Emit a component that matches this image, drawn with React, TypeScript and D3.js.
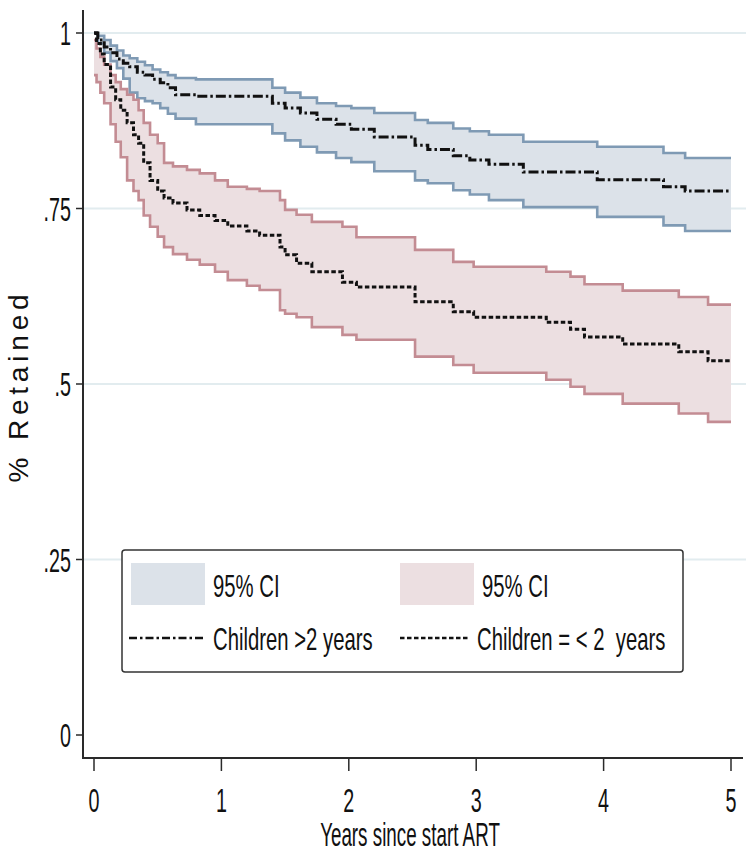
import * as d3 from 'd3';
import React, { useRef, useEffect } from 'react';

// Kaplan-Meier retention, children >2 years (time in years since ART start)
const olderTime = [0, 0.03, 0.08, 0.13, 0.18, 0.23, 0.28, 0.34, 0.40, 0.46, 0.52, 0.58, 0.64, 0.80, 1.40, 1.50, 1.62, 1.75, 1.90, 2.02, 2.20, 2.52, 2.62, 2.82, 2.95, 3.10, 3.37, 3.95, 4.47, 4.64];
const olderEst = [1.0, 0.99, 0.98, 0.972, 0.963, 0.957, 0.952, 0.944, 0.94, 0.934, 0.929, 0.922, 0.912, 0.91, 0.9, 0.893, 0.886, 0.877, 0.87, 0.863, 0.852, 0.84, 0.834, 0.825, 0.819, 0.813, 0.802, 0.791, 0.781, 0.775];
const olderUpper = [1.0, 0.996, 0.99, 0.982, 0.975, 0.968, 0.964, 0.959, 0.954, 0.948, 0.944, 0.94, 0.936, 0.934, 0.922, 0.915, 0.908, 0.9, 0.896, 0.893, 0.886, 0.876, 0.872, 0.864, 0.86, 0.855, 0.845, 0.838, 0.829, 0.822];
const olderLower = [1.0, 0.985, 0.972, 0.96, 0.95, 0.935, 0.915, 0.907, 0.903, 0.9, 0.893, 0.885, 0.878, 0.87, 0.857, 0.847, 0.838, 0.83, 0.822, 0.816, 0.803, 0.79, 0.786, 0.776, 0.77, 0.762, 0.752, 0.738, 0.726, 0.718];

// children =< 2 years
const youngerTime = [0, 0.02, 0.05, 0.08, 0.13, 0.17, 0.21, 0.26, 0.31, 0.35, 0.39, 0.44, 0.50, 0.55, 0.62, 0.73, 0.83, 0.95, 1.05, 1.20, 1.30, 1.46, 1.50, 1.59, 1.71, 1.95, 2.06, 2.52, 2.82, 2.98, 3.55, 3.74, 3.85, 4.15, 4.59, 4.82];
const youngerEst = [1.0, 0.985, 0.97, 0.955, 0.923, 0.905, 0.89, 0.872, 0.855, 0.843, 0.815, 0.79, 0.775, 0.765, 0.758, 0.748, 0.74, 0.733, 0.725, 0.718, 0.712, 0.695, 0.684, 0.672, 0.66, 0.645, 0.638, 0.617, 0.603, 0.595, 0.588, 0.578, 0.567, 0.557, 0.546, 0.533];
const youngerUpper = [0.99, 0.978, 0.966, 0.955, 0.94, 0.93, 0.92, 0.912, 0.905, 0.89, 0.872, 0.855, 0.843, 0.815, 0.81, 0.805, 0.8, 0.79, 0.781, 0.778, 0.775, 0.762, 0.748, 0.741, 0.731, 0.724, 0.709, 0.691, 0.674, 0.667, 0.66, 0.653, 0.642, 0.633, 0.624, 0.613];
const youngerLower = [0.94, 0.93, 0.915, 0.9, 0.87, 0.845, 0.823, 0.79, 0.775, 0.762, 0.74, 0.724, 0.71, 0.695, 0.685, 0.677, 0.67, 0.66, 0.648, 0.64, 0.634, 0.605, 0.6, 0.595, 0.581, 0.57, 0.563, 0.539, 0.527, 0.516, 0.506, 0.496, 0.486, 0.472, 0.458, 0.446];

const endTime = 5;
const xTicks = [0, 1, 2, 3, 4, 5];
const yTicks = [0, 0.25, 0.5, 0.75, 1];
const yTickLabels = ['0', '.25', '.5', '.75', '1'];
const ciLabel = '95% CI';
const olderLabel = 'Children >2 years';
const youngerLabel = 'Children = < 2  years';

const FONT = "'Liberation Sans', Arial, sans-serif";

function App() {
  const ref = useRef(null);

  useEffect(() => {
    draw();
  }, []);

  const draw = () => {
    const svg = d3.select(ref.current);
    svg.selectAll('*').remove();

    const x = d3.scaleLinear().domain([0, endTime]).range([94, 731]);
    const y = d3.scaleLinear().domain([0, 1]).range([735, 33]);

    const addText = (g, str, tx, ty, size, sx, anchor) =>
      g.append('text')
        .attr('transform', `translate(${tx},${ty}) scale(${sx},1)`)
        .attr('text-anchor', anchor)
        .attr('font-size', size)
        .attr('font-family', FONT)
        .attr('fill', '#111')
        .style('white-space', 'pre')
        .text(str);

    // gridlines
    svg.append('g').selectAll('line')
      .data(yTicks.filter((d) => d > 0))
      .enter().append('line')
      .attr('x1', 84).attr('x2', 746)
      .attr('y1', (d) => y(d)).attr('y2', (d) => y(d))
      .attr('stroke', '#e2ecef').attr('stroke-width', 2);

    const rows = (times, a, b) => {
      const pts = times.map((t, i) => [t, a[i], b ? b[i] : 0]);
      pts.push([endTime, a[a.length - 1], b ? b[b.length - 1] : 0]);
      return pts;
    };

    const area = d3.area()
      .x((d) => x(d[0]))
      .y0((d) => y(d[1]))
      .y1((d) => y(d[2]))
      .curve(d3.curveStepAfter);
    const line = d3.line()
      .x((d) => x(d[0]))
      .y((d) => y(d[1]))
      .curve(d3.curveStepAfter);

    const groups = [
      { time: olderTime, est: olderEst, lo: olderLower, hi: olderUpper, fill: '#dce2e9', stroke: '#7f9ab4', dash: '10,3,2.5,3' },
      { time: youngerTime, est: youngerEst, lo: youngerLower, hi: youngerUpper, fill: '#ecdfe1', stroke: '#c38c93', dash: '4.5,2.5' },
    ];

    groups.forEach((g) => {
      svg.append('path')
        .attr('d', area(rows(g.time, g.lo, g.hi)))
        .attr('fill', g.fill);
      [g.lo, g.hi].forEach((v) => {
        svg.append('path')
          .attr('d', line(rows(g.time, v)))
          .attr('fill', 'none')
          .attr('stroke', g.stroke)
          .attr('stroke-width', 2.6);
      });
    });

    groups.forEach((g) => {
      svg.append('path')
        .attr('d', line(rows(g.time, g.est)))
        .attr('fill', 'none')
        .attr('stroke', '#111')
        .attr('stroke-width', 3)
        .attr('stroke-dasharray', g.dash);
    });

    // axes
    const axes = svg.append('g').attr('stroke', '#2a2a2a');
    axes.append('line').attr('x1', 83).attr('x2', 83).attr('y1', 10).attr('y2', 759).attr('stroke-width', 2);
    axes.append('line').attr('x1', 82).attr('x2', 743).attr('y1', 758).attr('y2', 758).attr('stroke-width', 2);
    axes.selectAll('.yt').data(yTicks).enter().append('line')
      .attr('x1', 76).attr('x2', 83).attr('y1', (d) => y(d)).attr('y2', (d) => y(d)).attr('stroke-width', 1.5);
    axes.selectAll('.xt').data(xTicks).enter().append('line')
      .attr('x1', (d) => x(d)).attr('x2', (d) => x(d)).attr('y1', 758).attr('y2', 771).attr('stroke-width', 1.5);

    const labels = svg.append('g');
    yTicks.forEach((d, i) => addText(labels, yTickLabels[i], 71, y(d) + 12, 34, 0.58, 'end'));
    xTicks.forEach((d) => addText(labels, String(d), x(d), 812, 34, 0.58, 'middle'));
    addText(labels, 'Years since start ART', 410, 846, 33, 0.57, 'middle');

    labels.append('text')
      .attr('transform', 'translate(28,386) rotate(-90)')
      .attr('text-anchor', 'middle')
      .attr('font-size', 28)
      .attr('letter-spacing', 4.8)
      .attr('font-family', FONT)
      .attr('fill', '#111')
      .text('% Retained');

    // legend
    const lg = svg.append('g');
    lg.append('rect').attr('x', 122).attr('y', 550).attr('width', 561).attr('height', 122)
      .attr('rx', 3).attr('fill', '#fff').attr('stroke', '#333').attr('stroke-width', 1.5);
    lg.append('rect').attr('x', 131).attr('y', 563).attr('width', 74).attr('height', 42).attr('fill', groups[0].fill);
    lg.append('rect').attr('x', 400).attr('y', 563).attr('width', 74).attr('height', 42).attr('fill', groups[1].fill);
    lg.append('line').attr('x1', 129).attr('x2', 206).attr('y1', 638).attr('y2', 638)
      .attr('stroke', '#111').attr('stroke-width', 2.6).attr('stroke-dasharray', '8,3,2.5,3');
    lg.append('line').attr('x1', 400).attr('x2', 470).attr('y1', 638).attr('y2', 638)
      .attr('stroke', '#111').attr('stroke-width', 2.6).attr('stroke-dasharray', groups[1].dash);
    addText(lg, ciLabel, 213, 597, 31, 0.655, 'start');
    addText(lg, ciLabel, 482, 597, 31, 0.655, 'start');
    addText(lg, olderLabel, 213, 650, 31, 0.655, 'start');
    addText(lg, youngerLabel, 477, 650, 31, 0.655, 'start');
  };

  return (
    <svg ref={ref} width={752} height={860} style={{ position: 'absolute', left: 0, top: 0, background: '#fff' }}>
    </svg>
  );
}

export default App;
